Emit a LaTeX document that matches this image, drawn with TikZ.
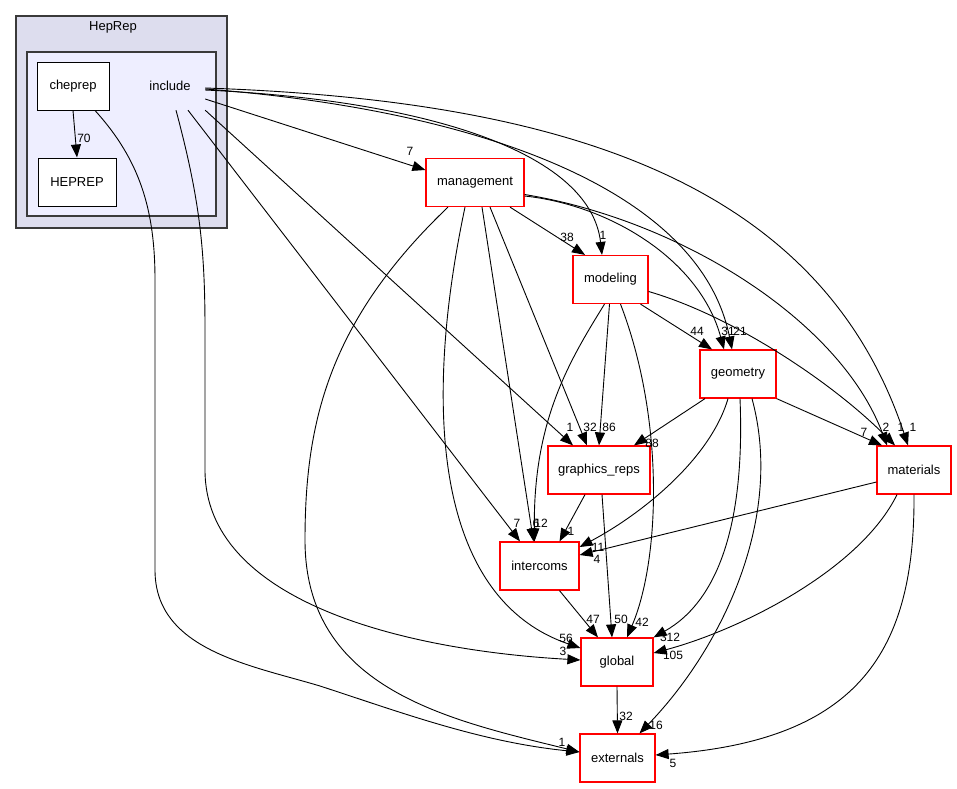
\documentclass[tikz,border=0pt]{standalone}
\usepackage{fontspec}
\setmainfont{Liberation Sans}
\usepackage{tikz}
\usetikzlibrary{arrows.meta}
\definecolor{dirred}{HTML}{FF0000}
\definecolor{outbg}{HTML}{DDDDEE}
\definecolor{inbg}{HTML}{EEEEFF}
\definecolor{clline}{HTML}{3A3A3A}
\tikzset{
  dn/.style={draw=dirred,line width=1.2pt,fill=white,minimum height=48,inner sep=0pt,font=\fontsize{13}{15}\selectfont},
  db/.style={draw=black,line width=1pt,fill=white,minimum height=48,inner sep=0pt,font=\fontsize{13}{15}\selectfont},
  cl/.style={draw=clline,line width=1.3pt},
  ar/.style={-{Triangle[length=13pt,width=10pt]},line width=0.9pt},
  el/.style={font=\fontsize{12}{14}\selectfont,inner sep=0pt}
}

\begin{document}
\begin{tikzpicture}[x=1pt,y=-1pt]
\useasboundingbox (0,0) rectangle (957,788);
\draw[cl,fill=outbg] (16,16) rectangle (227,228);
\node[font=\fontsize{13}{15}\selectfont] (hrt) at (113,27) {HepRep};
\draw[cl,fill=inbg] (27,52) rectangle (216,216);
\node[minimum width=70,minimum height=48,inner sep=0pt,font=\fontsize{13}{15}\selectfont] (inc) at (170,86) {include};
\node[db,minimum width=72] (chep) at (73,86) {cheprep};
\node[db,minimum width=78] (hepr) at (77,182) {HEPREP};
\node[dn,minimum width=98] (mgmt) at (475,182.5) {management};
\node[dn,minimum width=75] (modl) at (610.5,279.5) {modeling};
\node[dn,minimum width=76] (geom) at (738,374) {geometry};
\node[dn,minimum width=102] (grep) at (599,470) {graphics\_reps};
\node[dn,minimum width=74] (matl) at (914,470) {materials};
\node[dn,minimum width=79] (intc) at (539.5,566) {intercoms};
\node[dn,minimum width=72] (glob) at (617,662) {global};
\node[dn,minimum width=75] (extn) at (617.5,758) {externals};

\draw[ar] (chep.south) -- (hepr.north);
\draw[ar] ([yshift=-13]inc.east) -- ([yshift=12.5]mgmt.west);
\draw[ar] ([yshift=-4]inc.east) .. controls (420,100) and (590,150) .. ([xshift=-8.5]modl.north);
\draw[ar] ([yshift=-3]inc.east) .. controls (480,110) and (700,190) .. ([xshift=-6]geom.north);
\draw[ar] ([yshift=-2]inc.east) .. controls (560,100) and (820,180) .. ([xshift=-6]matl.north);
\draw[ar] (inc.south east) -- ([xshift=-26]grep.north);
\draw[ar] ([xshift=18]inc.south) -- ([xshift=-19.5]intc.north);
\draw[ar] ([xshift=6]inc.south) .. controls (200,200) and (205,250) .. (205,330) -- (205,470)
  .. controls (205,600) and (400,650) .. ([yshift=2]glob.west);
\draw[ar] ([xshift=22]chep.south) .. controls (140,160) and (155,210) .. (155,280) -- (155,570)
  .. controls (155,650) and (250,665) .. (320,686) .. controls (400,712) and (480,742) .. ([yshift=6]extn.west);
\draw[ar] ([xshift=-27]mgmt.south) .. controls (330,320) and (305,420) .. (305,540)
  .. controls (305,690) and (450,720) .. ([yshift=6]extn.west);
\draw[ar] ([xshift=-10]mgmt.south) .. controls (420,420) and (440,600) .. ([yshift=14]glob.west);
\draw[ar] ([xshift=7]mgmt.south) -- ([xshift=-6]intc.north);
\draw[ar] ([xshift=15]mgmt.south) -- ([xshift=-12]grep.north);
\draw[ar] ([xshift=35]mgmt.south) -- ([xshift=-25.5]modl.north);
\draw[ar] ([yshift=-13.5]mgmt.east) .. controls (610,205) and (700,260) .. ([xshift=-14]geom.north);
\draw[ar] ([yshift=-12]mgmt.east) .. controls (680,220) and (840,320) .. ([xshift=-27]matl.north);
\draw[ar] ([xshift=30]modl.south) -- ([xshift=-26]geom.north);
\draw[ar] ([yshift=-12]modl.east) .. controls (730,315) and (830,380) .. ([xshift=-19]matl.north);
\draw[ar] ([xshift=-1]modl.south) -- (grep.north);
\draw[ar] ([xshift=-6]modl.south) .. controls (570,360) and (533,420) .. ([xshift=-5]intc.north);
\draw[ar] ([xshift=10]modl.south) .. controls (665,420) and (660,560) .. ([xshift=10]glob.north);
\draw[ar] ([xshift=-33]geom.south) -- ([xshift=35]grep.north);
\draw[ar] (geom.south east) -- ([xshift=-32]matl.north);
\draw[ar] ([xshift=-10]geom.south) .. controls (710,460) and (640,515) .. ([yshift=19]intc.east);
\draw[ar] ([xshift=2]geom.south) .. controls (745,520) and (720,600) .. (glob.north east);
\draw[ar] ([xshift=14]geom.south) .. controls (785,520) and (720,650) .. ([xshift=22]extn.north);
\draw[ar] ([xshift=-14]grep.south) -- ([xshift=20]intc.north);
\draw[ar] ([xshift=3]grep.south) -- ([xshift=-5]glob.north);
\draw[ar] ([yshift=-12]matl.west) -- ([yshift=11]intc.east);
\draw[ar] ([xshift=-17]matl.south) .. controls (860,570) and (740,630) .. ([yshift=9]glob.east);
\draw[ar] (matl.south) .. controls (915,650) and (860,740) .. ([yshift=3]extn.east);
\draw[ar] ([xshift=20]intc.south) -- ([xshift=-19]glob.north);
\draw[ar] (glob.south) -- (extn.north);

\foreach \nm/\xx/\yy/\tx in {l70/84/138/70,lim/410/151/7,lio/603/235/1,lmo/567/237/38,
  lmg/728/331/31,lig/740/331/21,log/697/331/44,lir/570/427/1,lmr/590/427/32,lor/609/427/86,
  lgr/652/443/88,lgt/864/432/7,lmt/886/427/2,lot/901/427/1,lit/913/427/1,lic/517/523/7,
  lmc/536/523/6,loc/541/523/12,lrc/571/531/1,lgc/598/547/11,ltc/597/559/4,lcl/593/619/47,
  lrl/621/619/50,lol/642/622/42,lml/566/638/56,lil/563/651/3,lgl/670/637/312,ltl/673/655/105,
  lle/626/716/32,lge/656/725/16,lxe/562/742/1,lte/673/763/5}
  {\node[el] (\nm) at (\xx,\yy) {\tx};}
\end{tikzpicture}
\end{document}
